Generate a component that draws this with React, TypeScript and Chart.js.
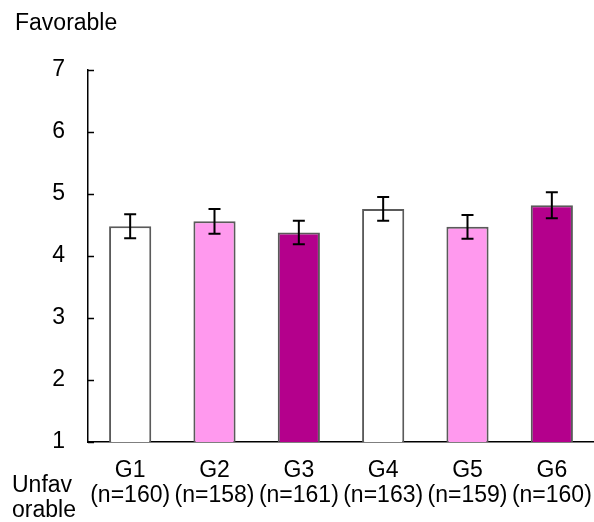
import React, { useEffect, useRef } from "react";
import { Chart, registerables } from "chart.js";

Chart.register(...registerables);

const groups = ["G1", "G2", "G3", "G4", "G5", "G6"];
const sampleSizes = ["(n=160)", "(n=158)", "(n=161)", "(n=163)", "(n=159)", "(n=160)"];
const means = [4.48, 4.56, 4.38, 4.76, 4.47, 4.82];
const errors = [0.195, 0.2, 0.19, 0.19, 0.19, 0.21];
const barColors = ["#FFFFFF", "#FF99EE", "#B4008C", "#FFFFFF", "#FF99EE", "#B4008C"];
const yMin = 1;
const yMax = 7;
const topLabel = "Favorable";
const bottomLabel = ["Unfav", "orable"];

const FONT = "'Liberation Sans', Arial, sans-serif";

const extrasPlugin = {
  id: "extras",
  afterDatasetsDraw(chart: any) {
    const ctx = chart.ctx;
    const x = chart.scales.x;
    const y = chart.scales.y;
    ctx.save();
    // error bars
    ctx.strokeStyle = "#000";
    ctx.lineWidth = 2;
    means.forEach((m, i) => {
      const cx = x.getPixelForValue(i);
      const top = y.getPixelForValue(m + errors[i]);
      const bot = y.getPixelForValue(m - errors[i]);
      ctx.beginPath();
      ctx.moveTo(cx, top);
      ctx.lineTo(cx, bot);
      ctx.moveTo(cx - 6, top);
      ctx.lineTo(cx + 6, top);
      ctx.moveTo(cx - 6, bot);
      ctx.lineTo(cx + 6, bot);
      ctx.stroke();
    });
    // inward ticks on y axis
    ctx.lineWidth = 1.5;
    for (let v = yMin; v <= yMax; v++) {
      const py = Math.round(y.getPixelForValue(v)) + 0.5;
      ctx.beginPath();
      ctx.moveTo(chart.chartArea.left, py);
      ctx.lineTo(chart.chartArea.left + 6, py);
      ctx.stroke();
    }
    // axis end labels
    ctx.fillStyle = "#000";
    ctx.font = `23px ${FONT}`;
    ctx.textAlign = "left";
    ctx.textBaseline = "alphabetic";
    ctx.fillText(topLabel, 15, 30);
    ctx.fillText(bottomLabel[0], 12, 492);
    ctx.fillText(bottomLabel[1], 12, 517);
    ctx.restore();
  },
};

export default function App() {
  const canvasRef = useRef<HTMLCanvasElement | null>(null);

  useEffect(() => {
    if (!canvasRef.current) return;
    const chart = new Chart(canvasRef.current, {
      type: "bar",
      data: {
        labels: groups.map((g, i) => [g, sampleSizes[i]]),
        datasets: [
          {
            data: means,
            backgroundColor: barColors,
            borderColor: "#5a5a5a",
            borderWidth: 2,
            barPercentage: 0.5,
            categoryPercentage: 1,
          },
        ],
      },
      options: {
        animation: false,
        responsive: true,
        maintainAspectRatio: false,
        layout: { padding: { top: 70, left: 0, right: 0, bottom: 0 } },
        plugins: {
          legend: { display: false },
          tooltip: { enabled: false },
          title: { display: false },
        },
        scales: {
          x: {
            grid: { display: false, drawTicks: false },
            border: { display: true, color: "#000", width: 1.5 },
            ticks: {
              color: "#000",
              font: { family: FONT, size: 23, lineHeight: 1.1 },
              padding: 16,
              maxRotation: 0,
              autoSkip: false,
            },
            afterFit: (scale: any) => {
              scale.height = 80;
              scale.paddingLeft = 0;
              scale.paddingRight = 0;
            },
          },
          y: {
            min: yMin,
            max: yMax,
            grid: { display: false, drawTicks: false },
            border: { display: true, color: "#000", width: 1.5 },
            ticks: {
              stepSize: 1,
              color: "#000",
              font: { family: FONT, size: 23 },
              padding: 23,
            },
            afterFit: (scale: any) => {
              scale.width = 88;
            },
          },
        },
      },
      plugins: [extrasPlugin],
    });
    return () => chart.destroy();
  }, []);

  return (
    <div style={{ position: "fixed", left: 0, top: 0, width: 594, height: 522, background: "#fff" }}>
      <canvas ref={canvasRef} />
    </div>
  );
}
